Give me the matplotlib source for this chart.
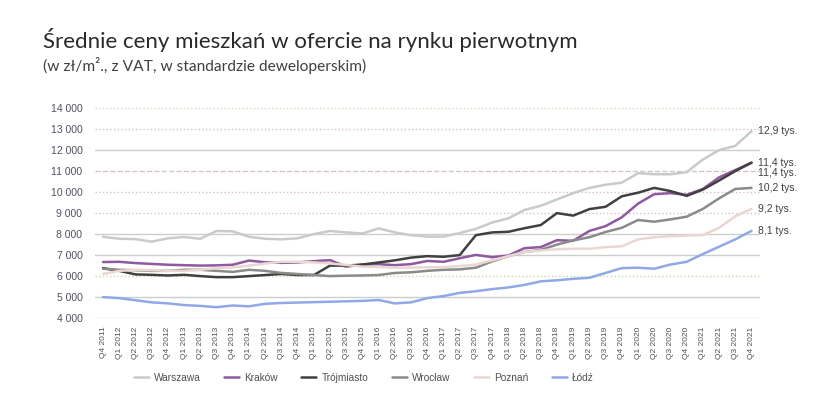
import matplotlib
matplotlib.use('Agg')
import matplotlib.pyplot as plt
import numpy as np

# kwartaly od Q4 2011 do Q4 2021
quarters = ['Q4 2011']
for yr in range(2012, 2022):
    for q in range(1, 5):
        quarters.append('Q%d %d' % (q, yr))

warszawa = [7870, 7780, 7760, 7640, 7800, 7860, 7780, 8150, 8130, 7870, 7780, 7750, 7800, 8000,
            8150, 8080, 8030, 8270, 8080, 7950, 7880, 7880, 8050, 8250, 8550, 8750, 9150, 9350,
            9650, 9950, 10200, 10350, 10450, 10900, 10850, 10850, 10950, 11550, 12000, 12200, 12900]
krakow = [6670, 6680, 6620, 6580, 6540, 6520, 6500, 6510, 6540, 6740, 6660, 6630, 6650, 6710,
          6760, 6450, 6550, 6570, 6520, 6570, 6720, 6680, 6850, 7010, 6900, 6980, 7330, 7380,
          7710, 7680, 8150, 8380, 8800, 9450, 9900, 9950, 9870, 10150, 10700, 11050, 11400]
trojmiasto = [6380, 6250, 6080, 6060, 6030, 6060, 6000, 5950, 5950, 6000, 6050, 6100, 6050, 6050,
              6500, 6500, 6550, 6650, 6750, 6880, 6950, 6920, 7000, 7950, 8080, 8110, 8280, 8430,
              9000, 8880, 9190, 9300, 9800, 9970, 10200, 10050, 9820, 10120, 10550, 11000, 11400]
wroclaw = [6350, 6300, 6280, 6250, 6250, 6300, 6300, 6250, 6200, 6300, 6250, 6150, 6100, 6050,
           6000, 6020, 6030, 6050, 6150, 6180, 6250, 6300, 6320, 6400, 6700, 6950, 7150, 7250,
           7500, 7700, 7850, 8100, 8300, 8670, 8590, 8700, 8830, 9200, 9700, 10150, 10200]
poznan = [6100, 6250, 6300, 6280, 6250, 6250, 6300, 6380, 6420, 6500, 6600, 6680, 6680, 6650,
          6600, 6530, 6450, 6430, 6400, 6400, 6420, 6430, 6480, 6550, 6750, 6950, 7150, 7220,
          7280, 7300, 7300, 7380, 7420, 7750, 7850, 7900, 7930, 7950, 8300, 8850, 9200]
lodz = [5000, 4950, 4850, 4750, 4700, 4620, 4580, 4520, 4600, 4560, 4680, 4720, 4740, 4760,
        4780, 4800, 4820, 4860, 4700, 4750, 4950, 5050, 5200, 5280, 5380, 5460, 5580, 5750,
        5800, 5870, 5920, 6150, 6380, 6400, 6350, 6550, 6680, 7050, 7400, 7750, 8150]

series_names = ['Warszawa', 'Kraków', 'Trójmiasto', 'Wrocław', 'Poznań', 'Łódź']
end_labels = ['12,9 tys.', '11,4 tys.', '11,4 tys.', '10,2 tys.', '9,2 tys.', '8,1 tys.']
y_ticks = [4000, 5000, 6000, 7000, 8000, 9000, 10000, 11000, 12000, 13000, 14000]

colors = ['#c8cbc8', '#9058a0', '#404040', '#8a8a8a', '#ead7d2', '#8fa9e6']
label_y = [12900, 11400, 10900, 10200, 9200, 8150]

plt.rcParams['font.family'] = ['Lato', 'DejaVu Sans']

fig = plt.figure(figsize=(8.36, 4.18), dpi=100)
ax = fig.add_axes([0.1136, 0.239, 0.795, 0.5024])

# linie siatki - rozne style jak w oryginale
grid_style = {4000: ('-', '#c9cfc9'), 5000: ('-', '#c9cfc9'), 6000: (':', '#c9d9a0'),
              7000: ('-', '#c9cfc9'), 8000: ('-', '#c9cfc9'), 9000: (':', '#d6bfd0'),
              10000: (':', '#d6bfd0'), 11000: ('--', '#d6c4d0'), 12000: ('-', '#c9cfc9'),
              13000: (':', '#d6bfd0'), 14000: (':', '#d9d0b8')}
for v in y_ticks:
    ls, c = grid_style[v]
    ax.axhline(v, color=c, lw=1.0, ls=ls, zorder=0)

x = np.arange(len(quarters))
data = [warszawa, krakow, trojmiasto, wroclaw, poznan, lodz]
for name, vals, c in zip(series_names, data, colors):
    ax.plot(x, vals, color=c, lw=1.8, label=name, solid_capstyle='round')

for txt, yv in zip(end_labels, label_y):
    ax.text(len(quarters) - 1 + 0.4, yv, txt, fontsize=7.5, color='#404040',
            va='center', ha='left', family=['Liberation Sans', 'DejaVu Sans'])

ax.set_xlim(-0.5, len(quarters) - 0.5)
ax.set_ylim(4000, 14000)
ax.set_yticks(y_ticks)
ax.set_yticklabels([('%d' % v)[:-3] + ' 000' for v in y_ticks], fontsize=7.5, color='#505060',
                   family=['Liberation Sans', 'DejaVu Sans'])
ax.set_xticks(x)
ax.set_xticklabels(quarters, rotation=90, fontsize=6, color='#505050',
                   family=['Liberation Sans', 'DejaVu Sans'])
ax.tick_params(length=0, pad=6)
ax.tick_params(axis='y', pad=9)
for s in ax.spines.values():
    s.set_visible(False)

fig.text(0.051, 0.885, 'Średnie ceny mieszkań w ofercie na rynku pierwotnym', fontsize=16,
         color='#2a2a2a', va='baseline')
fig.text(0.051, 0.83, '(w zł/m²., z VAT, w standardzie deweloperskim)', fontsize=11.2,
         color='#404040', va='baseline')

fig.legend(loc='center', bbox_to_anchor=(0.435, 0.096), ncol=6, frameon=False,
           columnspacing=2.3, handlelength=1.5, handletextpad=0.5,
           labelcolor='#505050', prop={'family': ['Liberation Sans', 'DejaVu Sans'], 'size': 7.3})

fig.savefig('out.png', dpi=100)
